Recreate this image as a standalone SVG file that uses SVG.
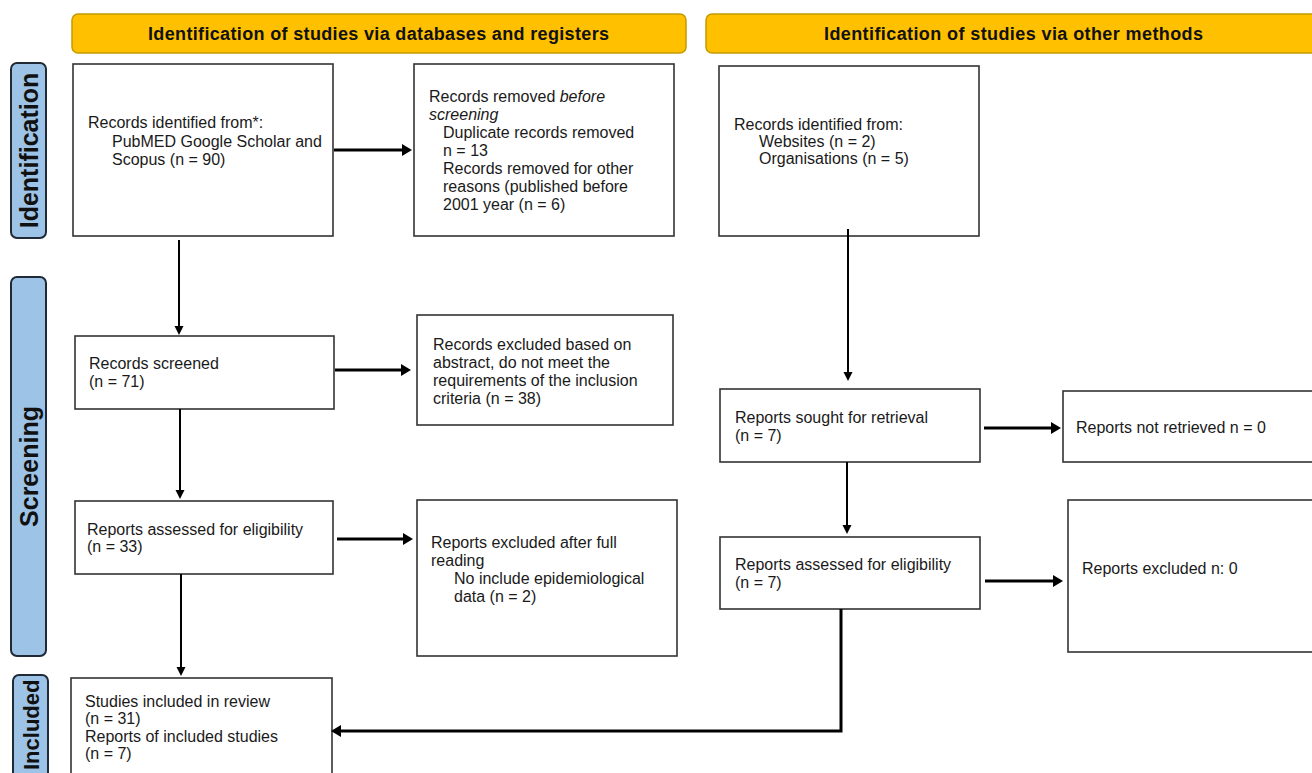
<svg xmlns="http://www.w3.org/2000/svg" width="1312" height="773" viewBox="0 0 1312 773">
<style>
.hdr{fill:#FFC000;stroke:#C49A00;stroke-width:1.5}
.hdrt{font-family:"Liberation Sans",Arial,sans-serif;font-weight:bold;font-size:18px;fill:#111;text-anchor:middle}
.side{fill:#9DC3E6;stroke:#1F2A36;stroke-width:2}
.sidet{font-family:"Liberation Sans",Arial,sans-serif;font-weight:bold;font-size:25px;fill:#111;text-anchor:middle}
.box{fill:#fff;stroke:#333;stroke-width:1.6}
.t{font-family:"Liberation Sans",Arial,sans-serif;font-size:16px;fill:#1a1a1a}
.it{font-style:italic}
.thick{fill:none;stroke:#000;stroke-width:3}
.thin{fill:none;stroke:#000;stroke-width:2}
</style>
<defs>
<marker id="ahT" markerUnits="userSpaceOnUse" markerWidth="12" markerHeight="14" refX="0" refY="6" orient="auto">
<path d="M0,0 L10,6 L0,12 z" fill="#000"/>
</marker>
<marker id="ahS" markerUnits="userSpaceOnUse" markerWidth="10" markerHeight="10" refX="0" refY="4.5" orient="auto">
<path d="M0,0 L9,4.5 L0,9 z" fill="#000"/>
</marker>
</defs>
<rect width="1312" height="773" fill="#fff"/>

<g id="header-databases">
<rect class="hdr" x="72" y="14" width="614" height="39" rx="6"/>
<text class="hdrt" x="378.5" y="39.5" textLength="461">Identification of studies via databases and registers</text>
</g>
<g id="header-other">
<rect class="hdr" x="706" y="14" width="620" height="39" rx="6"/>
<text class="hdrt" x="1013.5" y="39.5" textLength="379">Identification of studies via other methods</text>
</g>

<g id="phase-identification">
<rect class="side" x="11" y="63" width="35" height="175" rx="6"/>
<text class="sidet" transform="translate(37.5,150.5) rotate(-90)">Identification</text>
</g>
<g id="phase-screening">
<rect class="side" x="11" y="277" width="35" height="379" rx="6"/>
<text class="sidet" transform="translate(37.5,466.5) rotate(-90)">Screening</text>
</g>
<g id="phase-included">
<rect class="side" x="13" y="675" width="35" height="110" rx="6"/>
<text class="sidet" style="text-anchor:start;font-size:22px" transform="translate(38.5,770) rotate(-90)">Included</text>
</g>

<g id="records-identified-db">
<rect class="box" x="73" y="64" width="260" height="172"/>
<text class="t" x="88" y="128">Records identified from*:</text>
<text class="t" x="112" y="147">PubMED Google Scholar and</text>
<text class="t" x="112" y="165">Scopus (n = 90)</text>
</g>
<g id="records-removed">
<rect class="box" x="414" y="64" width="260" height="172"/>
<text class="t" x="429" y="102">Records removed <tspan class="it">before</tspan></text>
<text class="t it" x="429" y="120">screening</text>
<text class="t" x="443" y="138">Duplicate records removed</text>
<text class="t" x="443" y="156">n = 13</text>
<text class="t" x="443" y="174">Records removed for other</text>
<text class="t" x="443" y="192">reasons (published before</text>
<text class="t" x="443" y="210">2001 year (n = 6)</text>
</g>
<g id="records-identified-other">
<rect class="box" x="719" y="66" width="260" height="170"/>
<text class="t" x="734" y="130">Records identified from:</text>
<text class="t" x="759" y="147">Websites (n = 2)</text>
<text class="t" x="759" y="164">Organisations (n = 5)</text>
</g>
<g id="records-screened">
<rect class="box" x="75" y="336" width="259" height="73"/>
<text class="t" x="89" y="369">Records screened</text>
<text class="t" x="89" y="387">(n = 71)</text>
</g>
<g id="records-excluded">
<rect class="box" x="417" y="315" width="256" height="110"/>
<text class="t" x="433" y="350">Records excluded based on</text>
<text class="t" x="433" y="368">abstract, do not meet the</text>
<text class="t" x="433" y="386">requirements of the inclusion</text>
<text class="t" x="433" y="404">criteria (n = 38)</text>
</g>
<g id="reports-assessed-db">
<rect class="box" x="75" y="501" width="258" height="73"/>
<text class="t" x="87" y="535">Reports assessed for eligibility</text>
<text class="t" x="87" y="552">(n = 33)</text>
</g>
<g id="reports-excluded-db">
<rect class="box" x="417" y="500" width="260" height="156"/>
<text class="t" x="431" y="548">Reports excluded after full</text>
<text class="t" x="431" y="566">reading</text>
<text class="t" x="454" y="584">No include epidemiological</text>
<text class="t" x="454" y="602">data (n = 2)</text>
</g>
<g id="studies-included">
<rect class="box" x="71" y="678" width="261" height="110"/>
<text class="t" x="85" y="707">Studies included in review</text>
<text class="t" x="85" y="724">(n = 31)</text>
<text class="t" x="85" y="742">Reports of included studies</text>
<text class="t" x="85" y="759">(n = 7)</text>
</g>
<g id="reports-sought">
<rect class="box" x="720" y="389" width="260" height="73"/>
<text class="t" x="735" y="423">Reports sought for retrieval</text>
<text class="t" x="735" y="441">(n = 7)</text>
</g>
<g id="reports-not-retrieved">
<rect class="box" x="1063" y="391" width="260" height="71"/>
<text class="t" x="1076" y="433">Reports not retrieved n = 0</text>
</g>
<g id="reports-assessed-other">
<rect class="box" x="720" y="537" width="260" height="72"/>
<text class="t" x="735" y="570">Reports assessed for eligibility</text>
<text class="t" x="735" y="588">(n = 7)</text>
</g>
<g id="reports-excluded-other">
<rect class="box" x="1068" y="500" width="260" height="152"/>
<text class="t" x="1082" y="574">Reports excluded n: 0</text>
</g>

<g id="connectors">
<line class="thick" x1="334" y1="150" x2="402" y2="150" marker-end="url(#ahT)"/>
<line class="thick" x1="335" y1="370" x2="401" y2="370" marker-end="url(#ahT)"/>
<line class="thick" x1="337" y1="539" x2="403" y2="539" marker-end="url(#ahT)"/>
<line class="thick" x1="984" y1="428" x2="1051" y2="428" marker-end="url(#ahT)"/>
<line class="thick" x1="985" y1="581" x2="1053" y2="581" marker-end="url(#ahT)"/>
<polyline class="thick" points="841,609 841,731 341,731" marker-end="url(#ahT)"/>
<line class="thin" x1="179" y1="240" x2="179" y2="326" marker-end="url(#ahS)"/>
<line class="thin" x1="180" y1="409" x2="180" y2="490" marker-end="url(#ahS)"/>
<line class="thin" x1="181" y1="574" x2="181" y2="667" marker-end="url(#ahS)"/>
<line class="thin" x1="848" y1="229" x2="848" y2="372" marker-end="url(#ahS)"/>
<line class="thin" x1="847" y1="462" x2="847" y2="525" marker-end="url(#ahS)"/>
</g>
</svg>
